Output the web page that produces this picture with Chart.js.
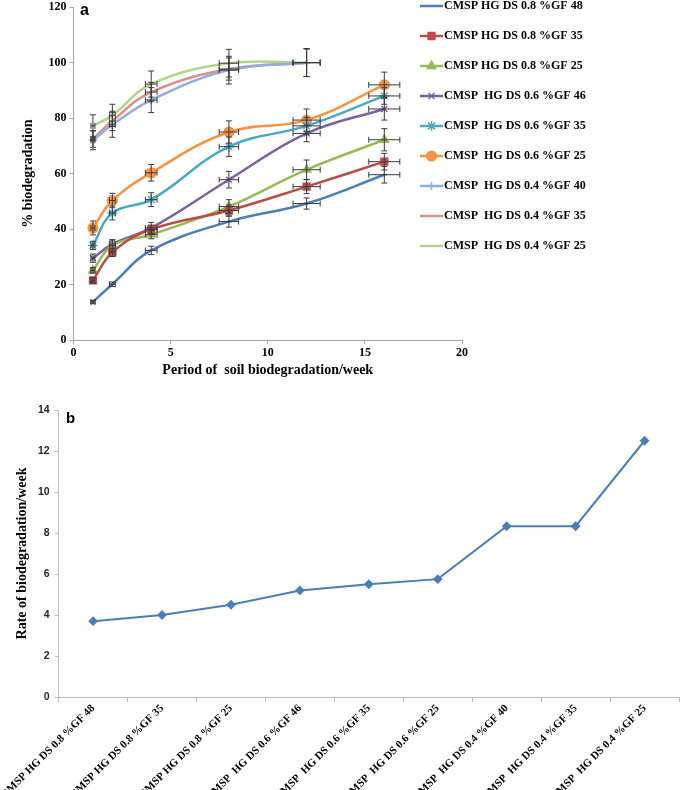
<!DOCTYPE html>
<html><head><meta charset="utf-8">
<script src="https://cdn.jsdelivr.net/npm/chart.js@4.4.1/dist/chart.umd.min.js"></script>
<style>
html,body{margin:0;padding:0;background:#fff;width:685px;height:790px;overflow:hidden;position:relative}
#ca{position:absolute;left:0;top:0}
#cb{position:absolute;left:0;top:390px}
.panel{position:absolute;font-family:"Liberation Sans",Arial,sans-serif;font-weight:bold;color:#000;line-height:1}
</style>
</head><body>
<canvas id="ca" width="685" height="390"></canvas>
<canvas id="cb" width="685" height="400"></canvas>
<div class="panel" style="left:80px;top:2px;font-size:16px">a</div>
<div class="panel" style="left:66px;top:410px;font-size:15px">b</div>
<script>
// ---------- data ----------
const weeks = [1, 2, 4, 8, 12, 16];
const sampleNames = [
  "CMSP HG DS 0.8 %GF 48", "CMSP HG DS 0.8 %GF 35", "CMSP HG DS 0.8 %GF 25",
  "CMSP  HG DS 0.6 %GF 46", "CMSP  HG DS 0.6 %GF 35", "CMSP  HG DS 0.6 %GF 25",
  "CMSP  HG DS 0.4 %GF 40", "CMSP  HG DS 0.4 %GF 35", "CMSP  HG DS 0.4 %GF 25"
];
const ds08gf48 = [13.7, 20.1, 32.3, 42.7, 49.2, 59.6];
const ds08gf35 = [21.5, 31.6, 39.9, 46.7, 55.3, 64.3];
const ds08gf25 = [25.1, 34.1, 38.0, 48.1, 61.4, 72.2];
const ds06gf46 = [29.5, 34.6, 40.4, 57.8, 74.5, 83.3];
const ds06gf35 = [34.1, 45.8, 50.6, 69.7, 77.2, 88.0];
const ds06gf25 = [40.4, 50.3, 60.3, 75.0, 79.3, 92.0];
const ds04gf40 = [72.0, 77.6, 86.5, 97.3, 100];
const ds04gf35 = [72.5, 79.0, 89.4, 97.7, 100];
const ds04gf25 = [77.2, 81.0, 92.3, 99.8, 100];

const err08gf48 = [0.6, 0.8, 1.5, 2.0, 2.0, 3.0];
const err08gf35 = [1.0, 1.5, 1.5, 2.0, 2.5, 3.0];
const err08gf25 = [1.0, 2.0, 1.5, 2.5, 3.5, 4.0];
const err06gf46 = [1.5, 1.5, 2.0, 3.0, 3.0, 4.0];
const err06gf35 = [1.5, 2.5, 2.5, 3.5, 3.0, 3.0];
const err06gf25 = [2.5, 2.6, 3.0, 4.0, 4.0, 4.6];
const err04gf40 = [3.4, 4.5, 4.5, 5.0, 5.0];
const err04gf35 = [3.0, 3.5, 3.5, 4.0, 5.0];
const err04gf25 = [4.0, 4.0, 4.7, 5.0, 5.0];
const weekErr = [0.1, 0.15, 0.3, 0.5, 0.7, 0.8];

const rateValues = [3.7, 4.0, 4.5, 5.2, 5.5, 5.75, 8.33, 8.33, 12.5];

// ---------- styling ----------
const SERIF = '"Liberation Serif","Times New Roman",serif';
const SANS = '"Liberation Sans",Arial,sans-serif';
const seriesValues = [ds08gf48, ds08gf35, ds08gf25, ds06gf46, ds06gf35, ds06gf25, ds04gf40, ds04gf35, ds04gf25];
const seriesErrors = [err08gf48, err08gf35, err08gf25, err06gf46, err06gf35, err06gf25, err04gf40, err04gf35, err04gf25];
const seriesColors = ['#4a7ebb', '#be4b48', '#98b954', '#7d60a0', '#46aac5', '#f69240', '#8eaedb', '#dd8f8c', '#b4d48c'];
const seriesMarkers = [
  {style: 'line', r: 3}, {style: 'rect', r: 4.8}, {style: 'triangle', r: 4.8},
  {style: 'crossRot', r: 4.2}, {style: 'star', r: 4.8}, {style: 'circle', r: 4.8},
  {style: 'cross', r: 4.2}, {style: false, r: 0}, {style: false, r: 0}
];

const datasetsA = seriesValues.map((vals, i) => ({
  label: sampleNames[i],
  data: vals.map((v, j) => ({x: weeks[j], y: v})),
  yErr: seriesErrors[i],
  borderColor: seriesColors[i],
  backgroundColor: seriesColors[i],
  pointBackgroundColor: seriesColors[i],
  pointBorderColor: seriesColors[i],
  pointBorderWidth: 1.5,
  pointStyle: seriesMarkers[i].style || 'circle',
  pointRadius: seriesMarkers[i].r,
  borderWidth: 2.5,
  tension: 0.4,
  fill: false
}));

const errorBars = {
  id: 'errorBars',
  afterDatasetsDraw(chart) {
    const ctx = chart.ctx, xs = chart.scales.x, ys = chart.scales.y;
    ctx.save();
    ctx.strokeStyle = '#3a3a3a';
    ctx.lineWidth = 1;
    chart.data.datasets.forEach(ds => {
      ds.data.forEach((p, j) => {
        const e = ds.yErr[j], xe = weekErr[j];
        const px = xs.getPixelForValue(p.x), py = ys.getPixelForValue(p.y);
        const yt = ys.getPixelForValue(p.y + e), yb = ys.getPixelForValue(p.y - e);
        const xl = xs.getPixelForValue(p.x - xe), xr = xs.getPixelForValue(p.x + xe);
        ctx.beginPath();
        ctx.moveTo(px, yt); ctx.lineTo(px, yb);
        ctx.moveTo(px - 3, yt); ctx.lineTo(px + 3, yt);
        ctx.moveTo(px - 3, yb); ctx.lineTo(px + 3, yb);
        ctx.moveTo(xl, py); ctx.lineTo(xr, py);
        ctx.moveTo(xl, py - 3); ctx.lineTo(xl, py + 3);
        ctx.moveTo(xr, py - 3); ctx.lineTo(xr, py + 3);
        ctx.stroke();
      });
    });
    ctx.restore();
  }
};

const sideLegend = {
  id: 'sideLegend',
  afterDraw(chart) {
    const ctx = chart.ctx;
    ctx.save();
    chart.data.datasets.forEach((ds, i) => {
      const y = 6 + 30 * i;
      ctx.strokeStyle = ds.borderColor;
      ctx.lineWidth = 2.5;
      ctx.beginPath(); ctx.moveTo(420, y); ctx.lineTo(443, y); ctx.stroke();
      if (ds.pointRadius > 0) {
        ctx.fillStyle = ds.pointBackgroundColor;
        ctx.strokeStyle = ds.pointBorderColor;
        ctx.lineWidth = ds.pointBorderWidth;
        Chart.helpers.drawPoint(ctx, {pointStyle: ds.pointStyle, radius: ds.pointRadius, rotation: 0, borderWidth: ds.pointBorderWidth}, 431.5, y);
      }
      ctx.fillStyle = '#000';
      ctx.font = 'bold 12px ' + SERIF;
      ctx.textBaseline = 'middle';
      ctx.textAlign = 'left';
      ctx.fillText(ds.label, 444, y);
    });
    ctx.restore();
  }
};

new Chart(document.getElementById('ca'), {
  type: 'line',
  data: {datasets: datasetsA},
  plugins: [errorBars, sideLegend],
  options: {
    responsive: false, animation: false, devicePixelRatio: 1,
    layout: {padding: {left: 0, right: 223, top: 0, bottom: 0}},
    plugins: {legend: {display: false}, tooltip: {enabled: false}},
    scales: {
      x: {
        type: 'linear', min: 0, max: 20,
        ticks: {stepSize: 5, color: '#000', padding: 2, font: {family: SERIF, weight: 'bold', size: 12}},
        grid: {drawOnChartArea: false, tickLength: 4, color: '#a6a6a6'},
        border: {color: '#a6a6a6'},
        title: {display: true, text: 'Period of  soil biodegradation/week', color: '#000',
          font: {family: SERIF, weight: 'bold', size: 14}, padding: {top: 0, bottom: 11.6}},
        afterFit(s) { s.height = 50; }
      },
      y: {
        min: 0, max: 120,
        ticks: {stepSize: 20, color: '#000', padding: 3, font: {family: SERIF, weight: 'bold', size: 12, lineHeight: 0.7}},
        grid: {drawOnChartArea: false, tickLength: 4, color: '#a6a6a6'},
        border: {color: '#a6a6a6'},
        title: {display: true, text: '% biodegradation', color: '#000',
          font: {family: SERIF, weight: 'bold', size: 14}, padding: {top: 19.6, bottom: 0}},
        afterFit(s) { s.width = 73.5; }
      }
    }
  }
});

new Chart(document.getElementById('cb'), {
  type: 'line',
  data: {
    labels: sampleNames,
    datasets: [{
      data: rateValues, borderColor: '#4a7ebb', backgroundColor: '#4a7ebb',
      pointBackgroundColor: '#4a7ebb', pointBorderColor: '#4a7ebb',
      borderWidth: 2, pointStyle: 'rectRot', pointRadius: 3.5, tension: 0
    }]
  },
  options: {
    responsive: false, animation: false, devicePixelRatio: 1,
    layout: {padding: {left: 0, right: 2, top: 20, bottom: 0}},
    plugins: {legend: {display: false}, tooltip: {enabled: false}},
    scales: {
      x: {
        type: 'category', offset: true,
        grid: {offset: true, drawOnChartArea: false, tickLength: 5, color: '#bfbfbf'},
        border: {color: '#bfbfbf'},
        ticks: {autoSkip: false, minRotation: 45, maxRotation: 45, color: '#000', padding: 0,
          font: {family: SERIF, weight: 'bold', size: 11}},
        afterFit(s) { s.height = 93; }
      },
      y: {
        min: 0, max: 14,
        ticks: {stepSize: 2, color: '#262626', padding: 5, font: {family: SANS, weight: 'bold', size: 10.5}},
        grid: {drawOnChartArea: false, tickLength: 4, color: '#bfbfbf'},
        border: {color: '#bfbfbf'},
        title: {display: true, text: 'Rate of biodegradation/week', color: '#000',
          font: {family: SERIF, weight: 'bold', size: 14}, padding: {top: 13.6, bottom: 0}},
        afterFit(s) { s.width = 58; }
      }
    }
  }
});
</script>
</body></html>
